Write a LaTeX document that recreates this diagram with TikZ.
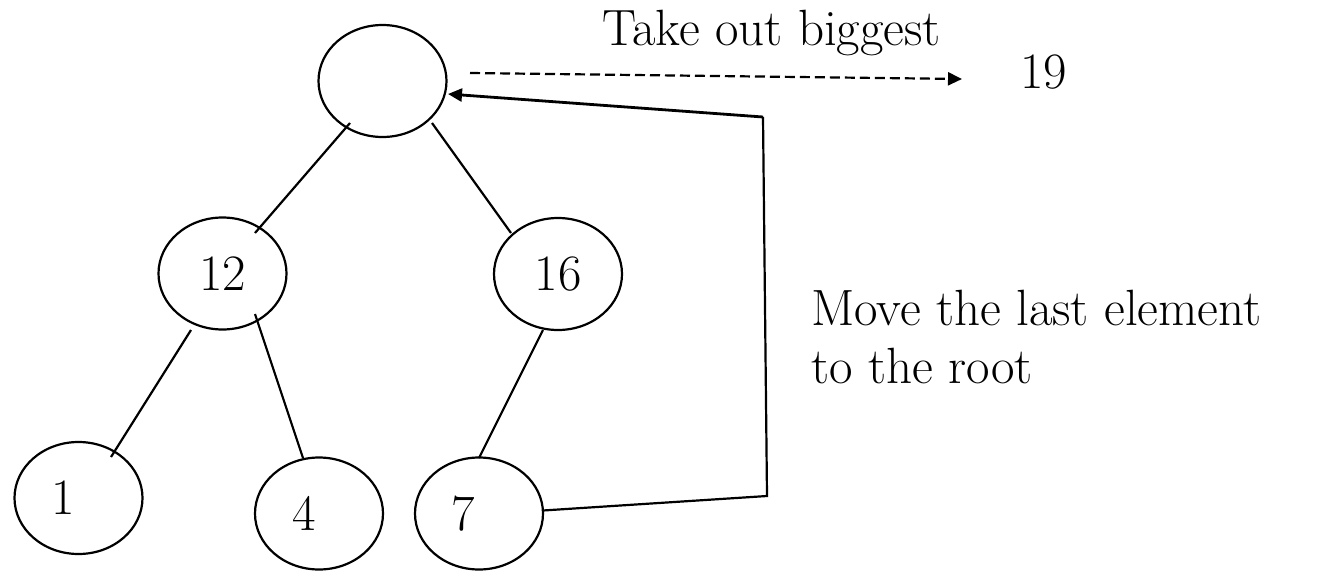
\documentclass[tikz,border=0pt]{standalone}
\usepackage{fontspec}
\usetikzlibrary{arrows.meta,calc,shapes.geometric}
\begin{document}
\begin{tikzpicture}[x=1pt,y=-1pt,
  hnode/.style={draw,ellipse,line width=2.2pt,minimum width=128pt,minimum height=112pt,inner sep=0pt,font=\fontsize{51}{60}\selectfont},
  lbl/.style={inner sep=0pt,font=\fontsize{51}{60}\selectfont},
  edge/.style={line width=2.2pt},
  tip/.style={-{Triangle[length=14pt,width=13pt]}}]
\useasboundingbox (0,0) rectangle (1329,570);
\node[hnode] (root) at (382.5,81) {};
\node[hnode] (n12) at (222.5,273.5) {12};
\node[hnode] (n16) at (558,274) {16};
\node[hnode] (n1) at (78.5,498) {};
\node[hnode] (n4) at (319,513.5) {};
\node[hnode] (n7) at (479,513.5) {};
\node[lbl] (t1) at ($(n1.center)+(-15,0)$) {1};
\node[lbl] (t4) at ($(n4.center)+(-15,0)$) {4};
\node[lbl] (t7) at ($(n7.center)+(-16,0)$) {7};
\draw[edge] ($(root.center)+(-32.5,42)$) -- ($(n12.center)+(32.5,-40.5)$);
\draw[edge] ($(root.center)+(49.5,42)$) -- ($(n16.center)+(-47,-41)$);
\draw[edge] ($(n12.center)+(-31.5,56.5)$) -- ($(n1.center)+(32.5,-41)$);
\draw[edge] ($(n12.center)+(32.5,40.5)$) -- ($(n4.center)+(-16,-55.5)$);
\draw[edge] ($(n16.center)+(-15,56)$) -- ($(n7.center)+(0,-55.5)$);
\coordinate (c1) at (763,117);
\coordinate (c2) at (767,496);
\draw[edge] ($(n7.center)+(64,-3)$) -- (c2) -- (c1);
\draw[edge,line width=2.8pt,tip] (c1) -- ($(root.center)+(65.5,13)$);
\node[lbl,anchor=base west] (take) at (602,45) {Take out biggest};
\node[lbl,anchor=base west] (n19) at (1020,88) {19};
\coordinate (d1) at (470,73);
\coordinate (d2) at (962,79);
\draw[edge,dash pattern=on 10pt off 5pt,tip] (d1) -- (d2);
\node[lbl,anchor=base west] (mv1) at (811,325) {Move the last element};
\node[lbl,anchor=base west] (mv2) at (811,383) {to the root};
\end{tikzpicture}
\end{document}
